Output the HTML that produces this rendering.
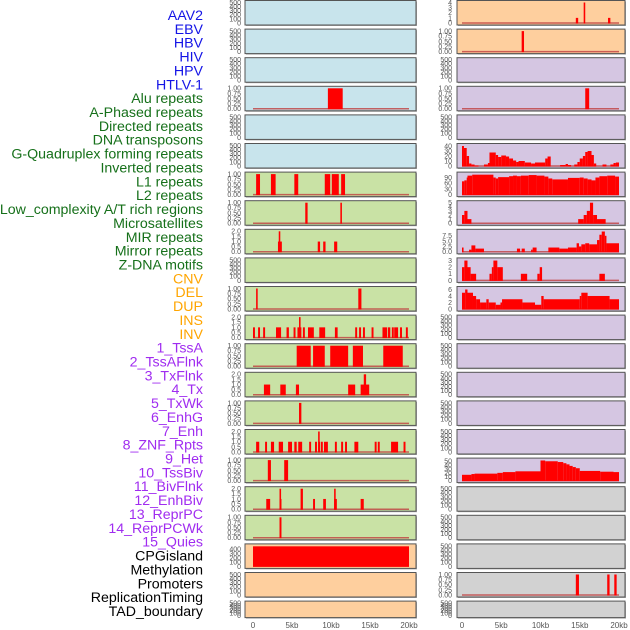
<!DOCTYPE html>
<html><head><meta charset="utf-8"><style>
html,body{margin:0;padding:0;background:#fff;width:630px;height:630px;overflow:hidden}
svg{display:block}
.lab{font-family:"Liberation Sans",sans-serif;font-size:14.2px}
.tk{font-family:"Liberation Sans",sans-serif;font-size:7px;fill:#555}
.xt{font-family:"Liberation Sans",sans-serif;font-size:8px;fill:#555}
</style></head><body>
<svg id="chart" width="630" height="630"></svg>
<script>
const labels=["AAV2","EBV","HBV","HIV","HPV","HTLV-1","Alu repeats","A-Phased repeats","Directed repeats","DNA transposons","G-Quadruplex forming repeats","Inverted repeats","L1 repeats","L2 repeats","Low_complexity A/T rich regions","Microsatellites","MIR repeats","Mirror repeats","Z-DNA motifs","CNV","DEL","DUP","INS","INV","1_TssA","2_TssAFlnk","3_TxFlnk","4_Tx","5_TxWk","6_EnhG","7_Enh","8_ZNF_Rpts","9_Het","10_TssBiv","11_BivFlnk","12_EnhBiv","13_ReprPC","14_ReprPCWk","15_Quies","CPGisland","Methylation","Promoters","ReplicationTiming","TAD_boundary"];
const labelColors=[...Array(6).fill("#1414e6"),...Array(13).fill("#16701a"),...Array(5).fill("#ffa500"),...Array(15).fill("#a02cf0"),...Array(5).fill("#000")];
const xTicks=[0,5,10,15,20];
const xTickLabels=["0","5kb","10kb","15kb","20kb"];
const T500=[0,100,200,300,400,500], T1=[0,0.25,0.5,0.75,1], T2=[0,0.5,1,1.5,2];
const L_alu=[[9.6,11.5,1]];
const L_l1=[[0.4,0.9,1],[2.3,2.9,1],[5.3,5.8,1],[9.2,9.9,1],[10.1,11.0,1],[11.3,11.8,1]];
const L_l2=[[6.7,7.0,1],[11.2,11.4,1]];
const L_low=[[3.2,3.7,1],[3.3,3.5,2],[8.3,8.6,1],[9.0,9.3,1],[10.4,10.8,1]];
const L_mir=[[0.4,0.6,1],[13.5,13.9,1]];
const L_mirror=[[0.0,0.25,1],[0.65,0.9,1],[1.3,1.55,1],[2.95,3.6,1],[4.3,4.6,1],[5.2,5.45,1],[5.7,6.2,1],[5.9,6.1,2],[6.4,6.65,1],[7.05,7.8,1],[8.5,9.25,1],[10.5,10.85,1],[13.1,13.35,1],[13.6,13.85,1],[14.1,14.35,1],[15.2,15.45,1],[16.6,17.2,1],[17.3,17.6,1],[17.8,18.05,1],[18.1,18.6,1],[18.85,19.1,1],[19.6,19.85,1]];
const L_zdna=[[5.6,7.4,1],[7.7,9.2,1],[9.9,12.2,1],[12.8,14.1,1],[16.7,19.2,1]];
const L_cnv=[[1.4,2.2,1],[3.5,4.2,1],[5.5,5.9,1],[12.2,13.1,1],[13.8,14.9,1],[14.2,14.5,2]];
const L_del=[[5.9,6.2,1]];
const L_dup=[[0.4,0.8,1],[1.55,1.8,1],[2.3,2.7,1],[3.3,3.85,1],[4.5,5.0,1],[5.3,5.6,1],[5.8,6.3,1],[7.2,7.45,1],[7.95,8.2,1],[8.35,8.6,1],[8.35,8.55,2],[8.7,8.95,1],[9.1,9.6,1],[10.5,10.75,1],[11.3,11.55,1],[11.8,12.05,1],[13.0,13.5,1],[15.6,15.85,1],[16.0,16.25,1],[17.7,18.6,1],[19.3,19.55,1]];
const L_ins=[[1.9,2.3,1],[4.0,4.5,1]];
const L_inv=[[1.7,2.2,1],[3.4,3.65,1],[3.4,3.6,2],[6.1,6.4,2],[7.7,7.95,1],[9.0,9.35,1],[10.4,10.75,1],[10.4,10.6,2],[13.8,14.2,1]];
const L_tssa=[[3.4,3.65,1]];
const L_tssaflnk=[[0.0,20.0,470]];
const R_ins=[[14.5,14.8,1],[15.5,15.7,4],[18.6,18.9,1]];
const R_inv=[[7.6,7.9,1]];
const R_tx=[[15.7,16.2,1]];
const R_enh=[[0,0.25,40],[0.25,0.6,36],[0.6,0.9,20],[0.9,1.2,5],[1.2,1.6,3],[1.6,2.1,1],[2.8,3.3,3],[3.3,3.5,6],[3.5,4.3,27],[4.3,4.6,22],[4.6,5.0,18],[5.0,5.6,21],[5.6,6.0,19],[6.0,6.5,15],[6.5,6.9,11],[6.9,7.2,8],[7.2,8.0,10],[8.0,8.8,7],[8.8,9.3,5],[9.3,10.6,7],[10.6,10.9,15],[10.9,11.3,19],[12.5,13.2,2],[13.2,13.5,4],[13.5,13.9,2],[14.3,14.7,3],[14.7,15.0,8],[15.0,15.4,15],[15.4,15.7,20],[15.7,16.0,28],[16.0,16.5,30],[16.5,16.8,22],[16.8,17.1,5],[17.9,18.4,3],[18.9,19.3,3],[19.3,19.6,6],[19.6,20.0,7]];
const R_znf=[[0,0.3,70],[0.3,0.6,75],[0.6,0.7,90],[0.7,1.3,100],[1.3,4.0,105],[4.0,4.3,90],[4.3,4.6,85],[4.6,6.0,92],[6.0,6.5,97],[6.5,7.0,100],[7.0,7.5,97],[7.5,8.5,100],[8.5,9.5,103],[9.5,10.5,100],[10.5,11.0,95],[11.0,11.5,85],[11.5,13.5,80],[13.5,15.0,88],[15.0,15.5,90],[15.5,16.0,85],[16.0,16.5,80],[16.5,17.0,75],[17.0,17.5,90],[17.5,18.5,97],[18.5,19.5,100],[19.5,20,95]];
const R_het=[[0,0.3,2],[0.3,0.7,3],[0.7,1.2,1],[14.8,15.5,1],[15.5,15.9,2],[15.9,16.3,3],[16.3,16.7,5],[16.7,17.2,2],[17.2,18.3,1]];
const R_tssbiv=[[0,0.2,2],[0.9,1.2,1],[1.2,1.7,3],[1.7,2.8,1.5],[7.0,7.4,1.5],[7.6,8.0,1.5],[8.8,9.0,1],[9.0,9.5,2],[11.0,12.4,2],[12.4,13.5,1.5],[13.5,14.6,2],[14.6,14.9,4],[14.9,15.2,2.5],[15.2,15.7,3.5],[15.7,16.2,4],[16.2,17.2,3.5],[17.2,17.5,5.5],[17.5,17.8,8],[17.8,18.2,9.5],[18.2,18.4,7.5],[18.4,20,4]];
const R_bivflnk=[[0,0.3,2],[0.3,0.7,3],[0.7,1.1,2],[1.1,1.8,1],[3.5,3.8,1],[3.8,4.0,2],[4.0,4.5,3],[4.5,5.2,2],[7.5,8.3,1],[9.6,9.9,1],[9.9,10.2,2],[17.5,18.2,1]];
const R_enhbiv=[[0,0.4,5],[0.4,0.7,6],[0.7,1.4,5],[1.4,1.8,4],[1.8,2.3,3],[2.3,3.1,2],[3.1,3.4,3],[3.4,4.3,2],[4.3,4.9,1.3],[4.9,5.1,2],[5.1,7.7,3],[7.7,9.3,2],[9.3,10.1,1.3],[10.1,10.4,4],[10.4,15.0,3],[15.0,15.2,4],[15.2,16.0,5],[16.0,18.8,4],[18.8,20,3]];
const R_quies=[[0,1.2,15],[1.2,1.6,17],[1.6,4.5,18],[4.5,5.2,20],[5.2,6.8,22],[6.8,10.0,24],[10.0,10.6,52],[10.6,12.2,50],[12.2,12.9,48],[12.9,13.3,45],[13.3,13.7,42],[13.7,14.1,38],[14.1,14.5,35],[14.5,15.0,32],[15.0,17.6,25],[17.6,19.3,23],[19.3,20,22]];
const R_prom=[[14.5,14.9,1],[18.5,18.8,1],[19.4,19.7,1]];

const BLUE="#c8e4ec",GREEN="#c9e2a5",ORANGE="#fecf9e",PURPLE="#d5c6e2",GRAY="#d2d2d2";
const leftPanels=[
 [BLUE,[],T500,500,"aav2"],[BLUE,[],T500,500,"ebv"],[BLUE,[],T500,500,"hbv"],[BLUE,L_alu,T1,1,"hiv"],[BLUE,[],T500,500,"hpv"],[BLUE,[],T500,500,"htlv"],
 [GREEN,L_l1,T1,1,"g7"],[GREEN,L_l2,T1,1,"g8"],[GREEN,L_low,T2,2,"g9"],[GREEN,[],T500,500,"g10"],[GREEN,L_mir,T1,1,"g11"],[GREEN,L_mirror,T2,2,"g12"],[GREEN,L_zdna,T1,1,"g13"],[GREEN,L_cnv,T2,2,"g14"],[GREEN,L_del,T1,1,"g15"],[GREEN,L_dup,T2,2,"g16"],[GREEN,L_ins,T1,1,"g17"],[GREEN,L_inv,T2,2,"g18"],[GREEN,L_tssa,T1,1,"g19"],
 [ORANGE,L_tssaflnk,[0,100,200,300,400],480,"o20"],[ORANGE,[],T500,500,"o21"],[ORANGE,[],T500,500,"o22"]];
const rightPanels=[
 [ORANGE,R_ins,[0,1,2,3,4],4,"r1"],[ORANGE,R_inv,T1,1,"r2"],[PURPLE,[],T500,500,"r3"],[PURPLE,R_tx,T1,1,"r4"],[PURPLE,[],T500,500,"r5"],[PURPLE,R_enh,[0,10,20,30,40],41,"r6"],[PURPLE,R_znf,[0,30,60,90],108,"r7"],[PURPLE,R_het,[0,1,2,3,4,5],5,"r8"],[PURPLE,R_tssbiv,[0,2.5,5,7.5],9.6,"r9"],[PURPLE,R_bivflnk,[0,1,2,3],3.1,"r10"],[PURPLE,R_enhbiv,[0,2,4,6],6.3,"r11"],
 [PURPLE,[],T500,500,"r12"],[PURPLE,[],T500,500,"r13"],[PURPLE,[],T500,500,"r14"],[PURPLE,[],T500,500,"r15"],[PURPLE,[],T500,500,"r16"],[PURPLE,R_quies,[0,10,20,30,40,50],53,"r17"],
 [GRAY,[],T500,500,"r18"],[GRAY,[],T500,500,"r19"],[GRAY,[],T500,500,"r20"],[GRAY,R_prom,T1,1,"r21"],[GRAY,[],T500,500,"r22"]];

const NS="http://www.w3.org/2000/svg";
const svg=document.getElementById("chart");
function mk(tag,attrs,parent){const e=document.createElementNS(NS,tag);for(const k in attrs)e.setAttribute(k,attrs[k]);(parent||svg).appendChild(e);return e;}
function fmt(v,ticks){const mx=Math.max(...ticks);if(mx<=1)return v.toFixed(2);if(ticks.some(t=>t%1!==0))return v.toFixed(1);return String(v);}

labels.forEach((t,i)=>{
 const e=mk("text",{x:203,y:20+i*13.86,"text-anchor":"end",fill:labelColors[i],class:"lab"});
 e.textContent=t;
 
 
});

function drawCol(panels,px0,px1,x0,x1,tickX,colName){
 const xs=kb=>x0+(x1-x0)*kb/20;
 panels.forEach((p,i)=>{
  const top=i*28.6+0.5, h=(i===21?16.5:24.5), bot=top+h;
  const g=mk("g",{});
  
  
  mk("rect",{x:px0+1,y:top+1,width:px1-px0,height:h,fill:"#aaa"},g);
  mk("rect",{x:px0,y:top,width:px1-px0,height:h,fill:p[0],stroke:"#555","stroke-width":1},g);
  const y0=bot-2, yr=h-4;
  const ys=v=>y0-yr*v/p[3];
  p[2].forEach(t=>{
   const tx=mk("text",{x:tickX,y:ys(t)+2.4,"text-anchor":"end",class:"tk"},g);
   tx.textContent=fmt(t,p[2]);
  });
  if(p[1].length && p[3]<400)
   mk("line",{x1:xs(0),x2:xs(20),y1:y0,y2:y0,stroke:"#c04040","stroke-width":1.5,opacity:0.8},g);
  p[1].forEach(s=>{
   const r=mk("rect",{x:xs(s[0]),y:ys(s[2]),width:Math.max(0.8,xs(s[1])-xs(s[0])),height:y0-ys(s[2])+0.5,fill:"#ff0000"},g);
   
   
  });
 });
 xTicks.forEach((t,j)=>{
  const e=mk("text",{x:xs(t),y:628,"text-anchor":"middle",class:"xt"});
  e.textContent=xTickLabels[j];
  
  
 });
}
drawCol(leftPanels,245,416,253,409,241,"left");
drawCol(rightPanels,457,625,462,619,452,"right");
</script>
</body></html>
